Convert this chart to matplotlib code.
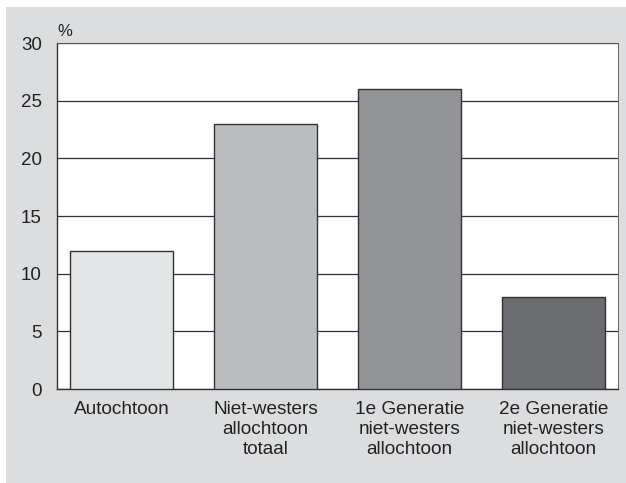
import matplotlib.pyplot as plt
from matplotlib.patches import Rectangle

plt.rcParams['font.family'] = ['Liberation Sans', 'DejaVu Sans']

# data
categories = ['Autochtoon', 'Niet-westers\nallochtoon\ntotaal',
              '1e Generatie\nniet-westers\nallochtoon',
              '2e Generatie\nniet-westers\nallochtoon']
values = [12, 23, 26, 8]
colors = ['#e4e5e7', '#bbbcbf', '#939497', '#6b6c6f']
yticks = [0, 5, 10, 15, 20, 25, 30]

W, H = 626, 483
fig = plt.figure(figsize=(W / 100, H / 100), dpi=100, facecolor='white')
# gray panel behind the chart
fig.patches.append(Rectangle((6 / W, 0), 1 - 6 / W, 1 - 7 / H,
                             transform=fig.transFigure, facecolor='#dcdddf',
                             edgecolor='none', zorder=-10))

ax = fig.add_axes([57 / W, 1 - 389 / H, (618 - 57) / W, (389 - 43) / H])
ax.set_zorder(5)
ax.set_facecolor('white')

ax.bar(range(len(values)), values, width=0.715, color=colors,
       edgecolor='#333333', linewidth=1.0, zorder=3)

ax.set_ylim(0, 30)
ax.set_xlim(-0.45, 3.45)
ax.set_yticks(yticks)
ax.set_xticks(range(len(categories)))
ax.set_xticklabels(categories, fontsize=13.7, color='#222222', linespacing=1.22)
ax.tick_params(axis='y', length=0, pad=11, labelsize=13.5, labelcolor='#222222')
ax.tick_params(axis='x', length=0, pad=9)
ax.yaxis.grid(True, color='#333333', linewidth=0.9, zorder=0)
ax.set_axisbelow(True)

for s in ['left', 'bottom']:
    ax.spines[s].set_color('#333333')
    ax.spines[s].set_linewidth(1.0)
for s in ['top', 'right']:
    ax.spines[s].set_color('#555555')
    ax.spines[s].set_linewidth(0.6)

ax.text(0.0, 1.012, '%', transform=ax.transAxes, fontsize=12,
        color='#222222', ha='left', va='bottom')

fig.savefig('out.png', dpi=100, facecolor=fig.get_facecolor())
